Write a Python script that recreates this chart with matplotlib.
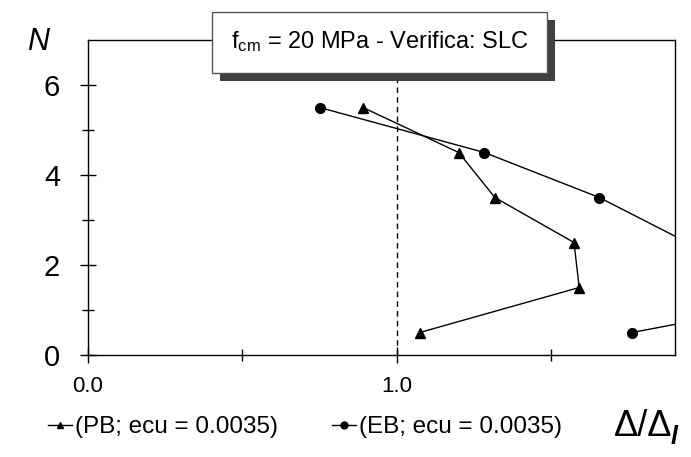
import matplotlib
matplotlib.use("Agg")
import matplotlib.pyplot as plt
from matplotlib.lines import Line2D
from matplotlib.patches import Rectangle

plt.rcParams['font.family'] = ['Liberation Sans', 'DejaVu Sans']
plt.rcParams['mathtext.fontset'] = 'custom'
plt.rcParams['mathtext.rm'] = 'Liberation Sans'
plt.rcParams['mathtext.it'] = 'Liberation Sans:italic'
plt.rcParams['mathtext.bf'] = 'Liberation Sans:bold'

# Data (storey N vs drift ratio)
storeys = [5.5, 4.5, 3.5, 2.5, 1.5, 0.5]
pb_ratio = [0.89, 1.20, 1.317, 1.573, 1.59, 1.074]
eb_ratio = [0.75, 1.283, 1.655, 1.94, 2.53, 1.761]
pb_label = "(PB; ecu = 0.0035)"
eb_label = "(EB; ecu = 0.0035)"
title = r"f$_{\rm cm}$ = 20 MPa - Verifica: SLC"
x_major = [0.0, 1.0]
x_major_labels = ["0.0", "1.0"]
x_minor = [0.5, 1.5]
y_major = [0, 2, 4, 6]
y_minor = [1, 3, 5]

W, H = 691, 457
fig = plt.figure(figsize=(W / 100, H / 100), dpi=100)
ax = fig.add_axes([88 / W, (H - 355) / H, 587 / W, 315 / H])

ax.axvline(1.0, color='black', lw=1, ls=(0, (4, 3)), zorder=1)
ax.plot(pb_ratio, storeys, color='black', lw=1, marker='^', ms=7, zorder=3)
ax.plot(eb_ratio, storeys, color='black', lw=1, marker='o', ms=7, zorder=3)

ax.set_xlim(0, 1.9)
ax.set_ylim(0, 7)
ax.set_xticks(x_major)
ax.set_xticklabels(x_major_labels)
ax.set_xticks(x_minor, minor=True)
ax.set_yticks(y_major)
ax.set_yticks(y_minor, minor=True)
ax.tick_params(axis='both', which='major', direction='inout', length=12, width=1, color='black')
ax.tick_params(axis='both', which='minor', direction='inout', length=9, width=1, color='black')
ax.tick_params(axis='x', labelsize=16, pad=9)
ax.tick_params(axis='y', labelsize=21, pad=14)
for s in ax.spines.values():
    s.set_linewidth(1)
    s.set_color('black')

# Title box with shadow
bx0, by0, bx1, by1 = 212, 11.7, 547, 72.7
off = 8
fig.patches.append(Rectangle(((bx0 + off) / W, 1 - (by1 + off) / H), (bx1 - bx0) / W, (by1 - by0) / H,
                             transform=fig.transFigure, facecolor='#404040', edgecolor='none', zorder=5))
fig.patches.append(Rectangle((bx0 / W, 1 - by1 / H), (bx1 - bx0) / W, (by1 - by0) / H,
                             transform=fig.transFigure, facecolor='white', edgecolor='#555555', lw=1, zorder=6))
fig.text((bx0 + bx1) / 2 / W, 1 - 42 / H, title, ha='center', va='center', fontsize=17, zorder=7)

# Axis labels
fig.text(38 / W, 1 - 42 / H, "N", ha='center', va='center', fontsize=22, style='italic')
fig.text(614 / W, 1 - 427 / H, "Δ/Δ", ha='left', va='center', fontsize=26)
fig.text(671 / W, 1 - 437 / H, "l", ha='left', va='center', fontsize=18, style='italic', weight='bold')

# Legend
h1 = Line2D([], [], color='black', lw=1, marker='^', ms=5)
h2 = Line2D([], [], color='black', lw=1, marker='o', ms=5)
fig.legend([h1, h2], [pb_label, eb_label], loc='center left', bbox_to_anchor=(48 / W, 1 - 427 / H),
           ncol=2, frameon=False, fontsize=17.5, handlelength=1.0, handletextpad=0.12,
           columnspacing=2.2, borderpad=0, borderaxespad=0)

fig.savefig("out.png", dpi=100)
